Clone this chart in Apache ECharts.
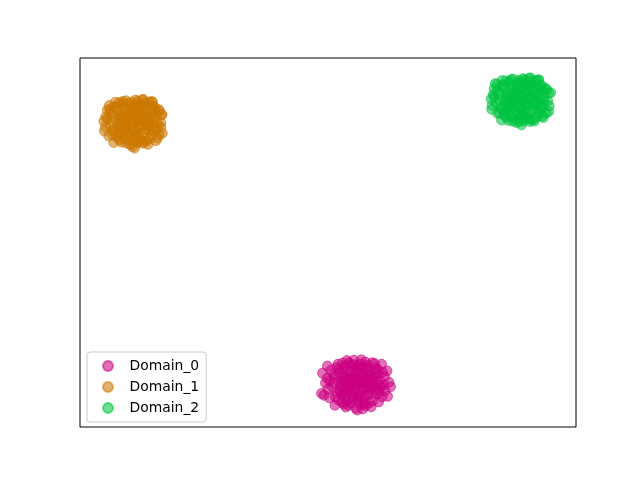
<!DOCTYPE html>
<html><head><meta charset="utf-8">
<script src="https://cdn.jsdelivr.net/npm/echarts@6/dist/echarts.min.js"></script>
<style>html,body{margin:0;padding:0;background:#fff}#c{width:640px;height:480px}</style>
</head><body><div id="c"></div>
<script>
const seriesNames = ['Domain_0', 'Domain_1', 'Domain_2'];
const seriesRGB = ['204,0,128', '204,120,0', '0,196,64'];

const domain0 = [[55.8,11.7],[53.2,13.9],[58.1,9.4],[50.9,10.8],[60.4,12.6],[54.7,16.8],[57.3,6.2],[52.1,7.3],[59.6,15.9],[49.8,13.2],[61.5,9.8],[56.4,14.2],[54.1,9.9],[51.8,16.1],[58.9,17.4],[53.6,5.4],[60.2,6.8],[48.7,9.1],[62.3,12.1],[55.2,18.1],[57.8,12.9],[52.6,12.4],[50.3,7.9],[59.1,11.3],[56.9,8.1],[54.0,12.8],[53.1,15.5],[61.0,14.8],[49.5,11.9],[57.2,15.7],[55.6,5.1],[51.4,5.9],[58.7,5.5],[62.0,8.3],[48.9,14.6],[56.1,16.6],[53.8,18.0],[59.9,8.9],[52.4,10.1],[55.0,7.6],[57.6,10.4],[50.6,15.4],[60.8,17.0],[54.5,14.9],[49.2,8.6],[61.9,15.2],[56.7,18.2],[52.9,17.3],[58.4,13.8],[51.2,12.0],[55.4,10.0],[60.6,10.6],[53.4,8.5],[57.0,4.9],[49.9,16.5],[62.6,10.9],
[55.1,12.5],[56.9,11.0],[54.3,11.2],[57.4,13.4],[53.7,10.6],[58.6,11.9],[55.9,9.1],[54.8,14.0],[56.2,12.2],[52.9,13.1],[59.3,13.2],[57.9,8.7],[53.9,7.2],[56.0,15.3],[51.9,9.4],[60.1,14.3],[55.3,13.4],[58.2,15.1],[52.3,14.7],[54.6,6.6],[57.1,7.0],[59.7,10.1],[50.4,12.6],[61.2,11.4],[56.6,10.2],[53.5,16.6],[58.0,16.7],[55.7,16.0],[51.1,14.2],[60.9,8.2],[54.9,8.4],[57.7,14.5],[52.7,8.7],[56.4,6.1],[59.0,7.1],[53.0,11.6],[58.5,10.6],[55.5,14.6],[50.0,10.3],[61.4,13.6],[54.2,17.4],[57.5,17.6],[52.0,17.0],[59.4,17.2],[55.9,4.6],[53.2,6.2],[58.3,6.5],[51.5,8.2],[60.0,15.6],[56.8,13.6],
[54.4,10.4],[57.2,12.1],[55.6,13.0],[56.3,8.6],[53.3,12.7],[58.9,12.8],[54.0,15.3],[57.0,16.2],[52.5,11.1],[59.8,12.0],[55.0,11.0],[56.7,11.9],[54.5,13.1],[58.1,10.8],[53.8,9.1],[57.9,15.9],[55.3,16.9],[52.2,15.6],[60.5,11.2],[56.0,7.3],[51.3,13.5],[59.5,14.6],[55.8,8.0],[54.1,5.9],[57.6,5.8],[53.0,9.7],[58.8,9.0],[56.5,17.1],[52.8,6.7],[60.3,9.6]];

const domain1 = [[10.9,82.7],[8.3,84.9],[13.4,80.6],[6.1,81.9],[15.2,83.8],[9.7,87.6],[12.6,77.4],[7.4,78.6],[14.8,86.9],[5.2,84.1],[16.3,81.2],[11.5,85.3],[9.2,80.8],[7.0,86.8],[13.9,88.1],[10.1,76.5],[15.6,78.3],[4.9,80.2],[16.5,84.7],[11.2,88.6],[12.8,83.6],[8.0,83.3],[5.8,78.9],[14.1,82.2],[11.9,79.2],[9.5,83.5],[8.8,86.3],[15.9,86.0],[6.5,83.0],[12.3,86.7],[10.6,76.0],[6.8,77.1],[13.7,76.6],[16.6,79.6],[5.5,85.9],[11.0,87.4],[8.6,88.2],[15.0,80.1],[7.7,81.0],[10.3,78.8],[12.1,81.5],[6.0,86.2],[14.6,88.0],[9.9,85.7],[4.8,82.9],[16.0,85.6],[12.7,88.8],[7.9,87.9],[13.3,84.9],[6.6,80.3],[10.5,81.0],[14.4,79.1],[8.5,79.4],[11.7,77.2],[5.9,87.1],[15.3,77.6],
[10.2,83.5],[12.0,82.0],[9.4,82.2],[12.5,84.4],[8.8,81.6],[13.7,82.9],[11.0,80.1],[9.9,85.0],[11.3,83.2],[8.0,84.1],[14.4,84.2],[13.0,79.7],[9.0,78.2],[11.1,86.3],[7.0,80.4],[15.2,85.3],[10.4,84.4],[13.3,86.1],[7.4,85.7],[9.7,77.6],[12.2,78.0],[14.8,81.1],[5.5,83.6],[16.3,82.4],[11.7,81.2],[8.6,87.6],[13.1,87.7],[10.8,87.0],[6.2,85.2],[16.0,79.2],[10.0,79.4],[12.8,85.5],[7.8,79.7],[11.5,77.1],[14.1,78.1],[8.1,82.6],[13.6,81.6],[10.6,85.6],[5.1,81.3],[16.5,84.6],[9.3,88.4],[12.6,88.6],[7.1,88.0],[14.5,88.2],[11.0,75.6],[8.3,77.2],[13.4,77.5],[6.6,79.2],[15.1,86.6],[11.9,84.6],
[9.5,81.4],[12.3,83.1],[10.7,84.0],[11.4,79.6],[8.4,83.8],[14.0,83.9],[9.1,86.4],[12.1,87.3],[7.6,82.3],[14.9,83.0],[10.1,82.0],[11.8,82.9],[9.6,84.2],[13.2,81.9],[8.9,80.2],[13.0,87.0],[10.4,88.0],[7.3,86.7],[15.6,82.3],[11.1,78.4],[6.4,84.5],[14.6,85.7],[10.9,79.1],[9.2,77.0],[12.7,76.9],[8.1,80.8],[13.9,80.1],[11.6,88.2],[7.9,77.9],[15.4,80.7]];

const domain2 = [[88.9,88.6],[86.4,90.7],[91.3,86.2],[84.0,87.9],[93.5,89.4],[88.1,93.1],[90.7,83.4],[85.5,84.5],[92.8,92.5],[83.3,90.1],[94.6,87.0],[89.6,91.2],[87.2,86.8],[85.1,92.4],[91.9,93.9],[88.5,82.7],[93.2,84.3],[83.0,86.1],[94.9,90.6],[89.3,94.4],[90.9,89.6],[86.0,89.0],[84.2,85.0],[92.1,88.0],[89.8,85.1],[87.5,89.5],[86.8,92.2],[93.8,91.8],[84.6,88.7],[90.4,92.7],[88.0,82.5],[85.0,83.2],[91.6,82.9],[94.5,85.5],[83.5,91.6],[89.0,93.5],[86.9,94.1],[92.9,86.0],[85.8,86.5],[88.3,84.6],[90.2,87.4],[84.1,92.9],[92.4,94.0],[87.9,91.6],[82.9,88.9],[94.1,91.4],[90.8,94.6],[85.9,93.8],[91.5,90.8],[84.8,86.4],[88.7,87.1],[92.6,85.0],[86.6,85.5],[89.9,83.6],[83.7,93.0],[93.4,83.9],
[88.2,89.4],[90.0,87.9],[87.4,88.1],[90.5,90.3],[86.8,87.5],[91.7,88.8],[89.0,86.0],[87.9,90.9],[89.3,89.1],[86.0,90.0],[92.4,90.1],[91.0,85.6],[87.0,84.1],[89.1,92.2],[85.0,86.3],[93.2,91.2],[88.4,90.3],[91.3,92.0],[85.4,91.6],[87.7,83.5],[90.2,83.9],[92.8,87.0],[83.5,89.5],[94.3,88.3],[89.7,87.1],[86.6,93.5],[91.1,93.6],[88.8,92.9],[84.2,91.1],[94.0,85.1],[88.0,85.3],[90.8,91.4],[85.8,85.6],[89.5,83.0],[92.1,84.0],[86.1,88.5],[91.6,87.5],[88.6,91.5],[83.1,87.2],[94.5,90.5],[87.3,94.3],[90.6,94.5],[85.1,93.9],[92.5,94.1],[89.0,81.9],[86.3,83.1],[91.4,83.4],[84.6,85.1],[93.1,92.5],[89.9,90.5],
[87.5,87.3],[90.3,89.0],[88.7,89.9],[89.4,85.7],[86.4,89.7],[92.0,89.8],[87.1,92.4],[90.1,93.3],[85.6,88.3],[92.9,88.9],[88.1,87.9],[89.8,88.8],[87.6,90.0],[91.2,87.8],[86.9,86.2],[91.0,93.0],[88.4,93.9],[85.3,92.7],[93.6,88.2],[89.2,84.4],[84.4,90.4],[92.6,91.6],[88.9,85.0],[87.2,82.9],[90.7,82.8],[86.1,86.7],[91.9,86.1],[89.6,94.1],[85.9,84.0],[93.3,86.7]];

const allData = [domain0, domain1, domain2];

const chart = echarts.init(document.getElementById('c'));
chart.setOption({
  animation: false,
  backgroundColor: '#ffffff',
  grid: { left: 80, top: 58, width: 496, height: 369, show: true, borderColor: '#000', borderWidth: 1, backgroundColor: 'transparent' },
  xAxis: { type: 'value', min: 0, max: 100, show: false },
  yAxis: { type: 'value', min: 0, max: 100, show: false },
  legend: {
    orient: 'vertical', left: 87, top: 352,
    padding: [7, 7, 7, 15],
    itemWidth: 33, itemHeight: 10, itemGap: 7,
    icon: 'circle',
    backgroundColor: 'rgba(255,255,255,0.8)',
    borderColor: '#cccccc', borderWidth: 1, borderRadius: 3,
    textStyle: { fontFamily: 'DejaVu Sans', fontSize: 13.9, color: '#000' },
    data: seriesNames
  },
  series: seriesNames.map((n, i) => ({
    name: n, type: 'scatter', symbol: 'circle', symbolSize: 10,
    itemStyle: { color: 'rgba(' + seriesRGB[i] + ',0.7)', borderColor: 'rgba(' + seriesRGB[i] + ',0.7)', borderWidth: 1 },
    data: allData[i]
  }))
});
</script></body></html>
